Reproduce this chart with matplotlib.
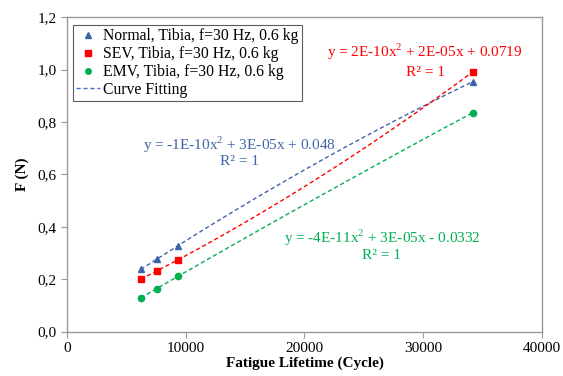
import numpy as np
import matplotlib
matplotlib.use("Agg")
import matplotlib.pyplot as plt
from matplotlib.lines import Line2D
from matplotlib.ticker import FuncFormatter

cycles_normal = [6200, 7600, 9300, 34200]
force_normal = [0.238, 0.276, 0.328, 0.954]
cycles_sev = [6200, 7600, 9300, 34200]
force_sev = [0.201, 0.232, 0.274, 0.992]
cycles_emv = [6200, 7600, 9300, 34200]
force_emv = [0.130, 0.164, 0.211, 0.836]

labels = ["Normal, Tibia, f=30 Hz, 0.6 kg", "SEV, Tibia, f=30 Hz, 0.6 kg",
          "EMV, Tibia, f=30 Hz, 0.6 kg"]
equations = ["y = -1E-10x$^2$ + 3E-05x + 0.048",
             "y = 2E-10x$^2$ + 2E-05x + 0.0719",
             "y = -4E-11x$^2$ + 3E-05x - 0.0332"]

blue = "#3F63A8"
red = "#FF0000"
green = "#00B050"
serif = "Liberation Serif"
plt.rcParams['mathtext.fontset'] = 'custom'
plt.rcParams['mathtext.rm'] = serif

fig = plt.figure(figsize=(5.63, 3.76), dpi=100)
ax = fig.add_axes([0.1195, 0.118, 0.8425, 0.836])

series = [(cycles_normal, force_normal, blue, "^"),
          (cycles_sev, force_sev, red, "s"),
          (cycles_emv, force_emv, green, "o")]
for xs, ys, c, m in series:
    coef = np.polyfit(xs, ys, 2)
    xx = np.linspace(min(xs), max(xs), 100)
    ax.plot(xx, np.polyval(coef, xx), ls=(0, (3, 2)), color=c, lw=1.0)
    ax.plot(xs, ys, ls="none", marker=m, color=c, markersize=4.5)

eq_pos = [(14560, 0.713, 0.648, blue), (30170, 1.067, 0.988, red),
          (26540, 0.358, 0.290, green)]
for eq, (x, y1, y2, c) in zip(equations, eq_pos):
    ax.text(x, y1, eq, color=c, fontsize=11, ha="center", va="center", family=serif)
    ax.text(x, y2, "R² = 1", color=c, fontsize=11, ha="center", va="center", family=serif)

ax.set_xlim(0, 40000)
ax.set_ylim(0, 1.2)
ax.set_xticks([0, 10000, 20000, 30000, 40000])
ax.set_yticks(np.arange(0, 1.21, 0.2))
ax.yaxis.set_major_formatter(FuncFormatter(lambda v, p: f"{v:.1f}".replace(".", ",")))
for s in ax.spines.values():
    s.set_color("#999999")
    s.set_linewidth(1.0)
ax.tick_params(direction="out", length=4, color="#999999", labelsize=11)
for t in ax.get_xticklabels() + ax.get_yticklabels():
    t.set_family(serif)

ax.set_xlabel("Fatigue Lifetime (Cycle)", fontsize=11, fontweight="bold", family=serif, labelpad=1)
ax.set_ylabel("F (N)", fontsize=11, fontweight="bold", family=serif, labelpad=6)

handles = [Line2D([], [], ls="none", marker="^", color=blue, markersize=4),
           Line2D([], [], ls="none", marker="s", color=red, markersize=4),
           Line2D([], [], ls="none", marker="o", color=green, markersize=4),
           Line2D([], [], ls=(0, (3, 2)), color="#4472C4", lw=1.0)]
leg = ax.legend(handles, labels + ["Curve Fitting"], loc="upper left",
                bbox_to_anchor=(0.006, 0.985), prop={"family": serif, "size": 11.3},
                handlelength=1.5, handletextpad=0.2, borderpad=0.2, labelspacing=0.12,
                fancybox=False, frameon=True, borderaxespad=0.2)
leg.get_frame().set_edgecolor("#333333")
leg.get_frame().set_linewidth(0.8)

fig.savefig("out.png", dpi=100)
